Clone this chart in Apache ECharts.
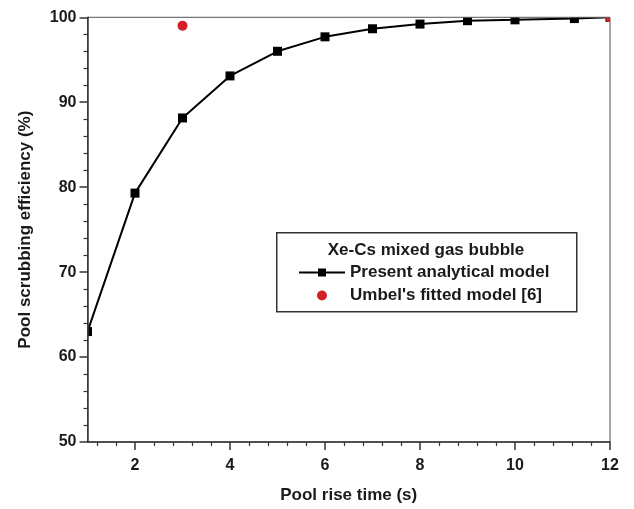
<!DOCTYPE html>
<html>
<head>
<meta charset="utf-8">
<script src="https://cdn.jsdelivr.net/npm/echarts@6/dist/echarts.min.js"></script>
<style>
  html, body { margin: 0; padding: 0; background: #fff; }
  #chart { width: 634px; height: 509px; }
</style>
</head>
<body>
<div id="chart"></div>
<script>
// Pool rise time (s) and scrubbing efficiency (%) for the analytical model
const riseTime = [1, 2, 3, 4, 5, 6, 7, 8, 9, 10, 11.25, 12];
const efficiency = [63.0, 79.3, 88.15, 93.1, 96.0, 97.7, 98.65, 99.2, 99.6, 99.7, 99.85, 100];

// Umbel's fitted model points
const umbelTime = [3, 12];
const umbelEff = [99.0, 100];

// Axis ticks
const xMajorTicks = [2, 4, 6, 8, 10, 12];
const xMinorTicks = [];
for (let v = 1.2; v < 12; v += 0.4) {
  const r = Math.round(v * 10) / 10;
  if (Math.abs(r / 2 - Math.round(r / 2)) > 1e-6) xMinorTicks.push(r);
}

const font = '"Liberation Sans", Arial, sans-serif';
const ink = '#1a1a1a';

// Plot area in pixels
const W = 634, H = 509;
const G = { left: 87.5, right: 24, top: 17.3, bottom: 66.7 };

const chart = echarts.init(document.getElementById('chart'), null, { renderer: 'canvas' });

// White panels around the plot area so markers sitting on the frame are cut at its edge
const masks = [
  { x: 0, y: 0, width: G.left, height: H },
  { x: 0, y: 0, width: W, height: G.top },
  { x: W - G.right, y: 0, width: G.right, height: H },
  { x: 0, y: H - G.bottom, width: W, height: G.bottom }
].map(r => ({
  type: 'rect', z: 6, silent: true,
  shape: r, style: { fill: '#fff' }
}));

chart.setOption({
  animation: false,
  backgroundColor: '#fff',
  grid: {
    left: G.left, right: G.right, top: G.top, bottom: G.bottom, z: 10,
    show: true, borderColor: '#555', borderWidth: 1, backgroundColor: 'transparent'
  },
  title: {
    text: 'Xe-Cs mixed gas bubble', left: 426, top: 242, textAlign: 'center', padding: 0,
    textStyle: { fontFamily: font, fontWeight: 'bold', fontSize: 17, color: ink }
  },
  xAxis: [{
    type: 'value', min: 1, max: 12, z: 10,
    name: 'Pool rise time (s)', nameLocation: 'middle', nameGap: 45,
    nameTextStyle: { fontFamily: font, fontWeight: 'bold', fontSize: 17, color: ink },
    axisLine: { show: true, lineStyle: { color: '#333', width: 1.5 } },
    axisTick: { show: true, inside: false, length: 8, customValues: xMajorTicks, lineStyle: { color: '#333', width: 1.5 } },
    axisLabel: { customValues: xMajorTicks, margin: 16, fontFamily: font, fontWeight: 'bold', fontSize: 16, color: ink },
    splitLine: { show: false }
  }, {
    type: 'value', min: 1, max: 12, position: 'bottom', z: 10,
    axisLine: { show: false },
    axisTick: { show: true, inside: false, length: 4, customValues: xMinorTicks, lineStyle: { color: '#333', width: 1.2 } },
    axisLabel: { show: false },
    splitLine: { show: false }
  }],
  yAxis: {
    type: 'value', min: 50, max: 100, interval: 10, z: 10,
    name: 'Pool scrubbing efficiency (%)', nameLocation: 'middle', nameGap: 54,
    nameTextStyle: { fontFamily: font, fontWeight: 'bold', fontSize: 17, color: ink },
    axisLine: { show: true, lineStyle: { color: '#333', width: 1.5 } },
    axisTick: { show: true, inside: false, length: 8, lineStyle: { color: '#333', width: 1.5 } },
    minorTick: { show: true, splitNumber: 5, length: 4, lineStyle: { color: '#333', width: 1.2 } },
    axisLabel: { margin: 11, fontFamily: font, fontWeight: 'bold', fontSize: 16, color: ink },
    splitLine: { show: false },
    minorSplitLine: { show: false }
  },
  legend: {
    orient: 'vertical', left: 298, top: 264,
    itemWidth: 46, itemHeight: 10, itemGap: 6, padding: 0,
    textStyle: { fontFamily: font, fontWeight: 'bold', fontSize: 17, color: ink },
    data: ['Present analytical model', "Umbel's fitted model [6]"]
  },
  graphic: masks.concat([{
    type: 'rect', left: 276, top: 232, z: 0,
    shape: { width: 300, height: 79 },
    style: { fill: '#fff', stroke: '#333', lineWidth: 1.5 }
  }]),
  series: [{
    name: 'Present analytical model', type: 'line', clip: true,
    data: riseTime.map((t, i) => [t, efficiency[i]]),
    symbol: 'rect', symbolSize: 9, showAllSymbol: true,
    lineStyle: { color: '#000', width: 2 },
    itemStyle: { color: '#000' },
    z: 3
  }, {
    name: "Umbel's fitted model [6]", type: 'scatter', clip: true,
    data: umbelTime.map((t, i) => [t, umbelEff[i]]),
    symbol: 'circle', symbolSize: 10,
    itemStyle: { color: '#d42027', opacity: 1 },
    z: 4
  }]
});
</script>
</body>
</html>
